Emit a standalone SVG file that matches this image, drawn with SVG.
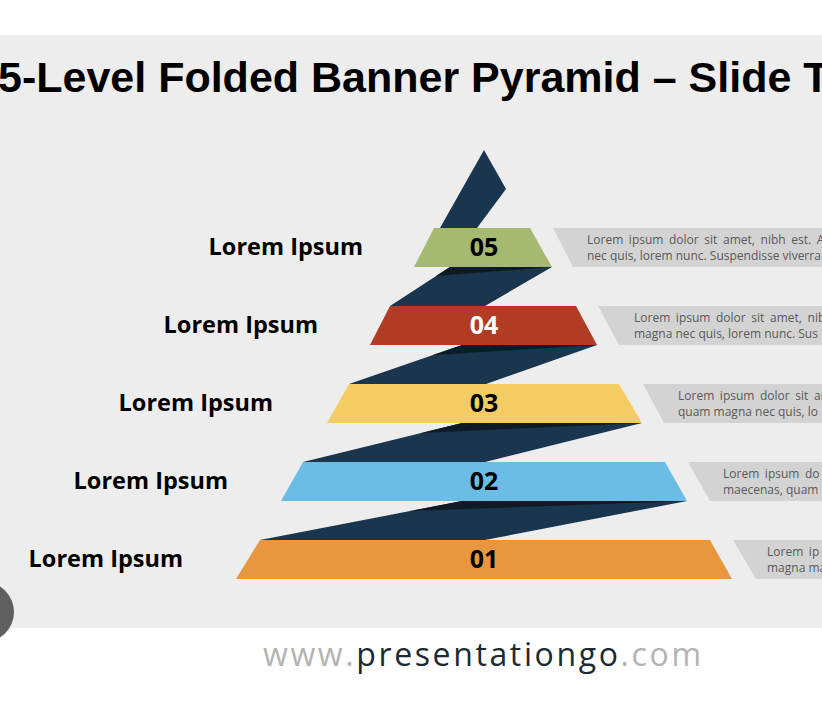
<svg xmlns="http://www.w3.org/2000/svg" width="822" height="704" viewBox="0 0 822 704">
  <defs>
    <style>
      .title { font-family: "Liberation Sans", Arial, sans-serif; font-weight: 700; font-size: 43px; fill: #000; }
      .label { font-family: "Open Sans", "Liberation Sans", sans-serif; font-weight: 700; font-size: 23.5px; fill: #000; text-anchor: end; }
      .num { font-family: "Open Sans", "Liberation Sans", sans-serif; font-weight: 700; font-size: 25px; fill: #000; text-anchor: middle; }
      .desc { font-family: "Open Sans", "Liberation Sans", sans-serif; font-size: 12px; fill: #595959; }
      .just { word-spacing: 2.5px; }
      .ribbon { fill: #1a364e; }
      .shadow { fill: #0e1b26; }
      .callout { fill: #d3d3d3; }
      .foot { font-family: "Open Sans", "Liberation Sans", sans-serif; font-size: 32px; }
    </style>
    <clipPath id="slideClip"><rect x="0" y="35" width="822" height="593"/></clipPath>
  </defs>

  <rect x="0" y="0" width="822" height="704" fill="#ffffff"/>
  <rect x="0" y="35" width="822" height="593" fill="#ededed"/>

  <text class="title" x="-2" y="92">5-Level Folded Banner Pyramid – Slide T</text>

  <g id="connectors">
    <polygon class="ribbon" points="484,150 506,189 477,228 440,228"/>
    <polygon class="ribbon" points="450,267 552,267 485,306 390,306"/>
    <polygon class="shadow" points="450,267 552,267 436,276"/>
    <polygon class="ribbon" points="462,345 597,345 486,384 349,384"/>
    <polygon class="shadow" points="462,345 597,345 433,355"/>
    <polygon class="ribbon" points="462,423 642,423 485,462 303,462"/>
    <polygon class="shadow" points="462,423 642,423 421,433"/>
    <polygon class="ribbon" points="462,501 687,501 485,540 260,540"/>
    <polygon class="shadow" points="462,501 687,501 410,511"/>
  </g>

  <g id="level5">
    <polygon points="434,228 530,228 552,267 414,267" fill="#a5b970"/>
    <text class="num" x="484" y="256">05</text>
    <text class="label" x="363" y="255">Lorem Ipsum</text>
    <polygon class="callout" points="553,228 822,228 822,267 573,267"/>
    <g clip-path="url(#slideClip)">
      <text class="desc just" x="587" y="243.5">Lorem ipsum dolor sit amet, nibh est. A</text>
      <text class="desc" x="587" y="260">nec quis, lorem nunc. Suspendisse viverra</text>
    </g>
  </g>

  <g id="level4">
    <polygon points="390,306 576,306 597,345 370,345" fill="#b23b24"/>
    <text class="num" x="484" y="334" style="fill:#ffffff">04</text>
    <text class="label" x="318" y="333">Lorem Ipsum</text>
    <polygon class="callout" points="598,306 822,306 822,345 619,345"/>
    <g clip-path="url(#slideClip)">
      <text class="desc just" x="634" y="321.5">Lorem ipsum dolor sit amet, nibh</text>
      <text class="desc" x="634" y="338">magna nec quis, lorem nunc. Sus</text>
    </g>
  </g>

  <g id="level3">
    <polygon points="349,384 619,384 642,423 327,423" fill="#f5cc63"/>
    <text class="num" x="484" y="412">03</text>
    <text class="label" x="273" y="411">Lorem Ipsum</text>
    <polygon class="callout" points="643,384 822,384 822,423 664,423"/>
    <g clip-path="url(#slideClip)">
      <text class="desc just" x="678" y="399.5">Lorem ipsum dolor sit am</text>
      <text class="desc" x="678" y="416">quam magna nec quis, lo</text>
    </g>
  </g>

  <g id="level2">
    <polygon points="303,462 665,462 687,501 281,501" fill="#6bbde8"/>
    <text class="num" x="484" y="490">02</text>
    <text class="label" x="228" y="489">Lorem Ipsum</text>
    <polygon class="callout" points="688,462 822,462 822,501 710,501"/>
    <g clip-path="url(#slideClip)">
      <text class="desc just" x="723" y="477.5">Lorem ipsum do</text>
      <text class="desc" x="723" y="494">maecenas, quam</text>
    </g>
  </g>

  <g id="level1">
    <polygon points="260,540 710,540 732,579 236,579" fill="#e9973e"/>
    <text class="num" x="484" y="568">01</text>
    <text class="label" x="183" y="567">Lorem Ipsum</text>
    <polygon class="callout" points="733,540 822,540 822,579 756,579"/>
    <g clip-path="url(#slideClip)">
      <text class="desc just" x="767" y="555.5">Lorem ip</text>
      <text class="desc" x="767" y="572">magna ma</text>
    </g>
  </g>

  <circle cx="-16" cy="612" r="30" fill="#5f5f5f"/>

  <text class="foot" x="263" y="666" textLength="438" lengthAdjust="spacing"><tspan fill="#b3b3b3">www.</tspan><tspan fill="#1b2a33">presentationgo</tspan><tspan fill="#b3b3b3">.com</tspan></text>
</svg>
